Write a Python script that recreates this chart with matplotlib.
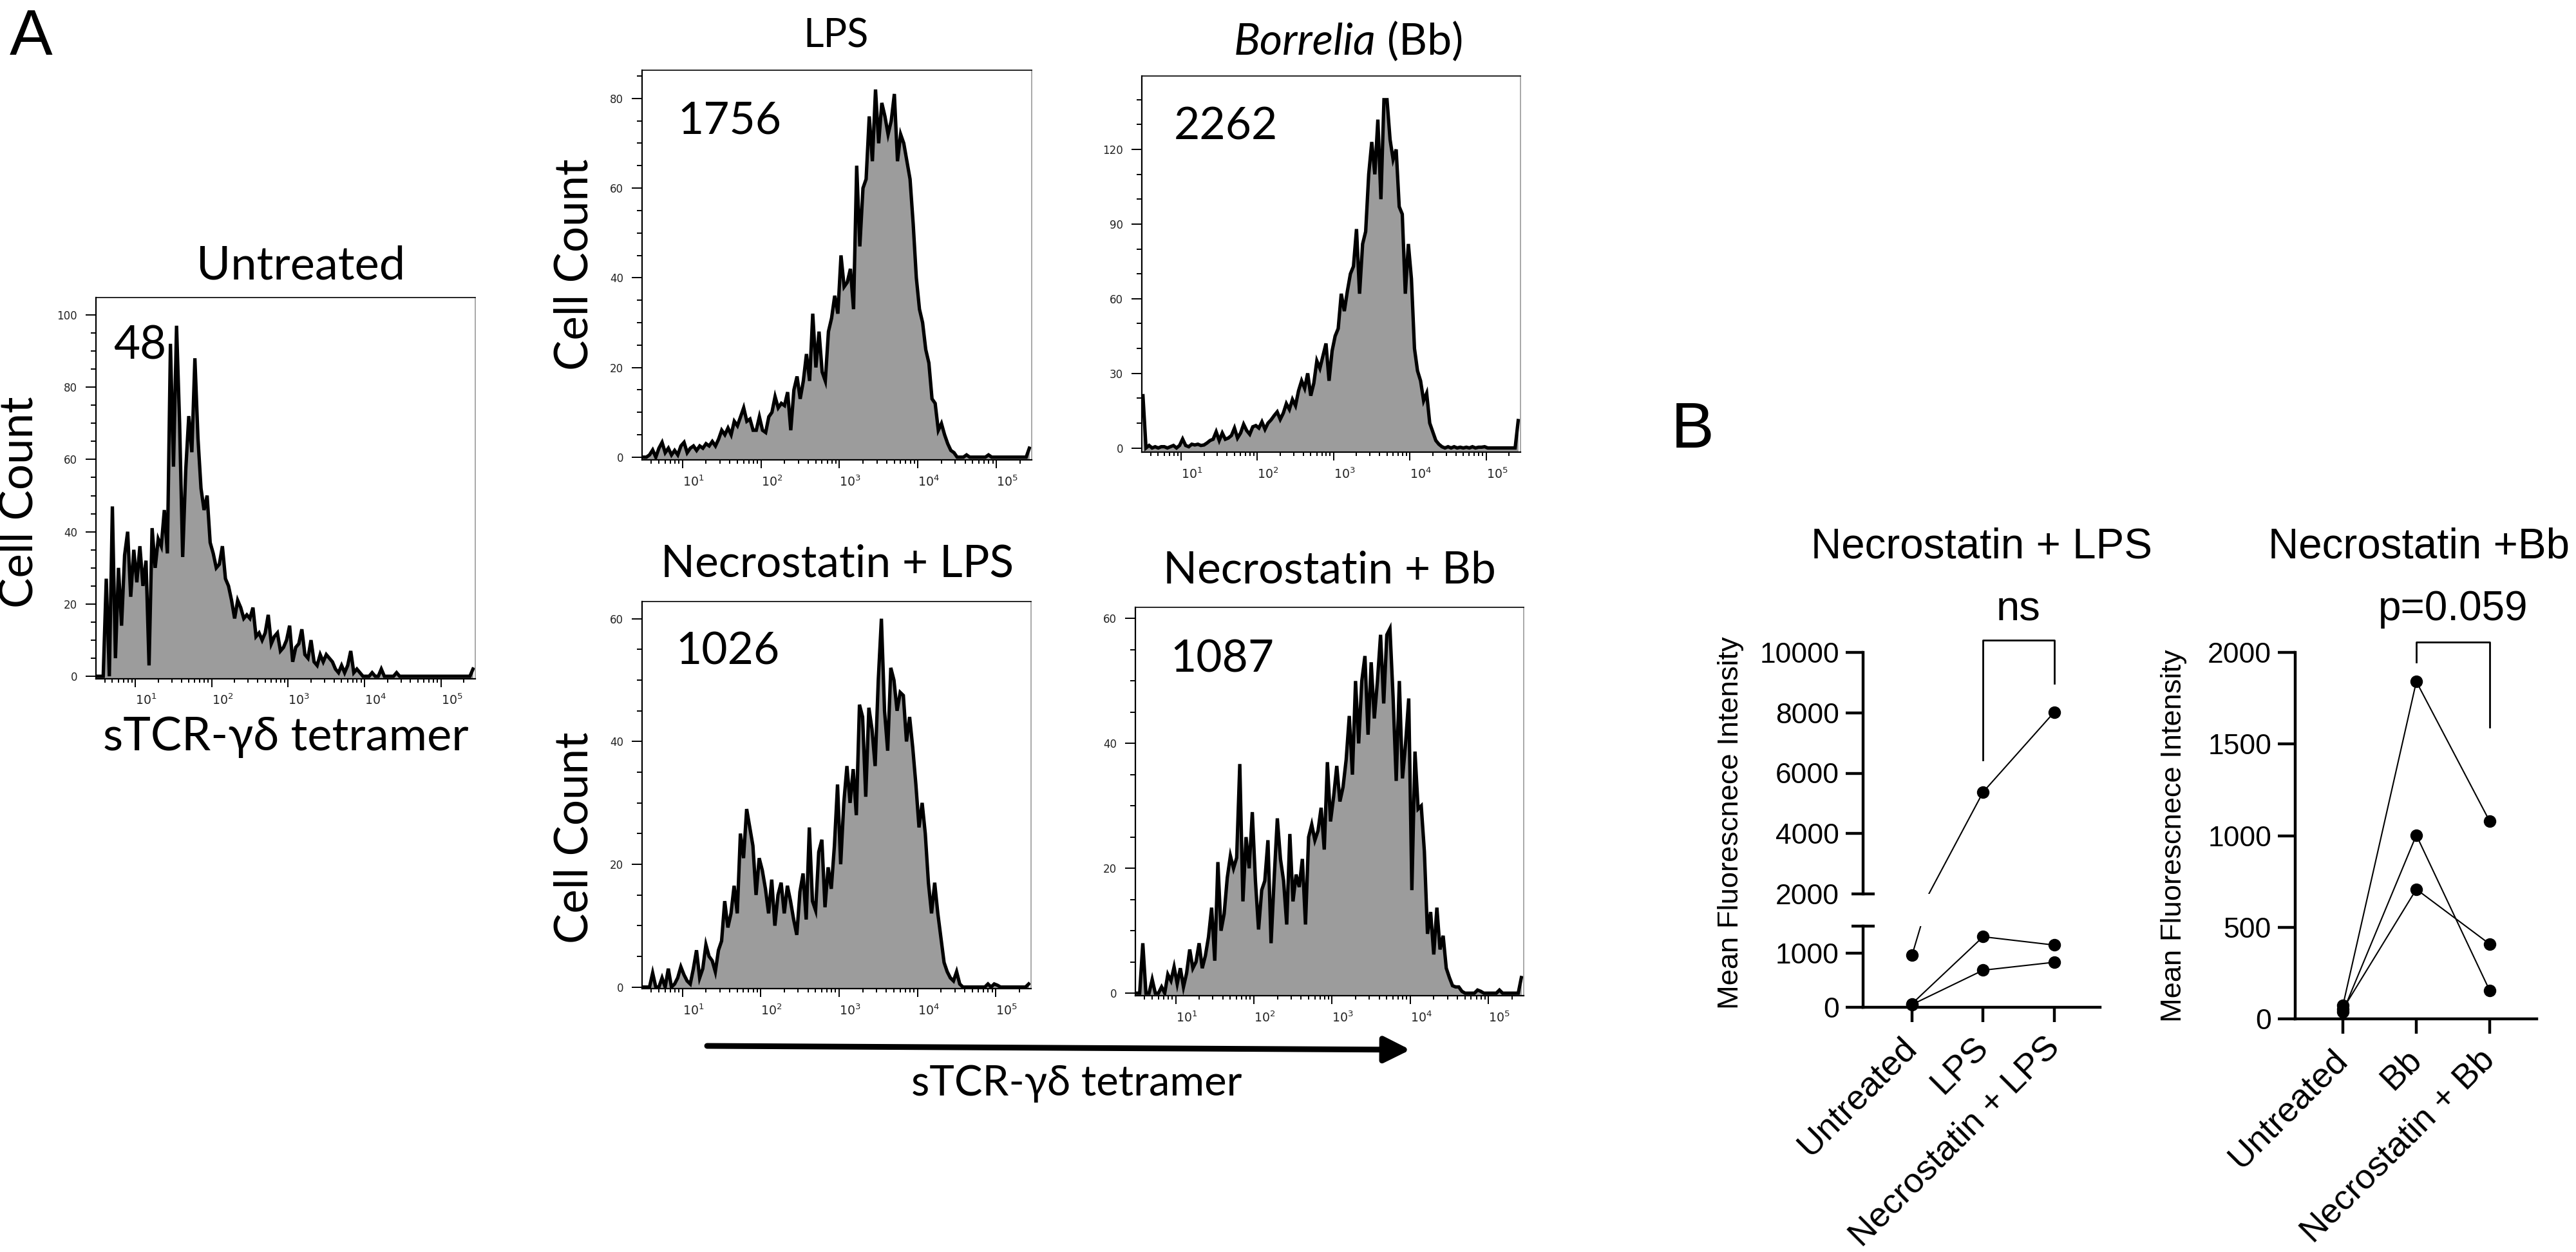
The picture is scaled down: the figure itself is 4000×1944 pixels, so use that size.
import numpy as np
import matplotlib
matplotlib.use('Agg')
import matplotlib.pyplot as plt
from matplotlib.ticker import FixedLocator, LogLocator, NullFormatter
from matplotlib.patches import FancyArrowPatch, ArrowStyle

# ======================= DATA =======================
# Flow-cytometry histograms: cell counts per log10 channel (channel grid 10^0.50 ... step 0.04 decade)
hist_log_start = 0.50
hist_log_step = 0.04
n_channels = 124

untreated_counts = [0, 0, 0, 27, 0, 47, 5, 30, 14, 33.5,
                    40, 22, 35, 26, 36, 25, 32, 3, 41, 30,
                    38, 36, 46, 34, 92, 58, 97, 70, 33, 57,
                    72, 62, 88, 66, 52, 46, 50, 37, 34, 30,
                    31, 36, 27, 25, 21, 16, 21, 19, 16, 17,
                    16, 19, 11, 12, 10, 12, 17, 9, 11, 12,
                    7, 8, 10, 14, 4, 8, 9, 13, 6, 5,
                    10, 4, 3, 6, 4, 6, 5, 4, 2, 1,
                    3, 1, 3, 7, 1, 2, 1, 0, 0, 0,
                    1, 0, 0, 2, 0, 0, 0, 0, 1]
untreated_edge = 2

lps_counts = [0, 0, 0.5, 1.6, 0, 2.0, 3.3, 1, 2, 0.5,
              1.5, 0.5, 2.5, 3.3, 1, 2, 2.5, 1.5, 2.5, 2,
              3, 2.5, 3.5, 2.5, 4, 6, 5, 6.5, 5, 8,
              7, 9, 11, 8, 8.5, 6, 6, 9, 6, 5.5,
              9, 10, 13.5, 11, 12, 11.5, 14.5, 6, 15, 18,
              13, 17, 23, 17, 32, 20, 28, 19, 17, 28,
              31, 36, 32, 45, 38, 39, 42, 33, 65, 47,
              60, 62, 76, 66, 82, 70, 79, 76, 72, 75,
              81, 66, 72, 70, 66, 62, 52, 40, 33, 30,
              24, 21, 13, 12, 6, 7.5, 5, 3, 1.5, 1,
              0, 0, 0, 0.5, 0, 0, 0, 0, 0, 0,
              0.5]
lps_edge = 2

bb_counts = [21, 0, 1, 0, 0.5, 0, 0.5, 0.5, 0, 0.5,
             1, 0, 1, 3.6, 1, 0.5, 1.5, 1.2, 1.5, 1,
             1.2, 2, 3, 3.5, 6.5, 3, 6, 3.5, 4, 5,
             8, 4, 6, 9.5, 7, 5.5, 8.5, 9, 8, 10.5,
             7.5, 10, 11.3, 13, 14.5, 11.5, 14, 17.8, 15.5, 19.5,
             17, 23, 27, 24, 30, 21, 26, 35, 32, 37,
             42, 27, 39, 45, 48, 62, 55, 63, 70, 73,
             88, 62, 82, 87, 110, 123, 110, 132, 100, 140,
             140, 124, 116, 120, 97, 94, 62, 82, 68, 40,
             31, 27, 19, 22, 10, 6.5, 3, 1.5, 0.5, 0,
             0.5, 0, 0.5, 0, 0.3, 0, 0.3, 0, 0.5, 0,
             0.3, 0.3, 0.5]
bb_edge = 11

nec_lps_counts = [0, 0, 0, 2.3, 0, 0, 1.5, 0, 3, 0,
                  0.5, 1.5, 3.3, 2, 1, 0.5, 3, 6, 1.5, 3,
                  6.9, 5, 4.3, 2.5, 6, 7.5, 14, 9.7, 12, 16.5,
                  12, 25, 21, 29, 26, 23, 15, 21, 19, 16,
                  12, 17.5, 10, 15, 17, 12, 16.5, 14, 11, 8.5,
                  15.5, 18.5, 11, 26, 14, 12.5, 22, 24, 13, 19.5,
                  16, 23, 33, 20, 30, 36, 30, 35.5, 28, 46,
                  44, 31, 45.5, 42, 36, 50, 60, 45, 38.5, 52,
                  50, 45, 48, 47.5, 40, 44, 39, 33, 26, 30,
                  25, 17, 12, 17, 12, 8, 4, 2.5, 1.5, 1,
                  2.5, 0.5, 0, 0, 0, 0, 0, 0, 0, 0,
                  0.5, 0, 0.5, 0.3]
nec_lps_edge = 0.5

nec_bb_counts = [0, 0, 8, 0, 0, 2.2, 0, 0, 1, 0,
                 3, 2, 4.2, 1.5, 4, 1, 3.2, 7, 4, 5,
                 8, 4, 6, 9, 13.7, 5.2, 21, 10, 12.7, 18.5,
                 22, 20, 21.7, 36.7, 14.7, 25, 20, 29, 18, 10.2,
                 16.5, 18, 24.5, 8, 18.5, 28, 21.5, 18, 11, 25.5,
                 14.7, 19, 17, 21.5, 11, 25, 27, 24.5, 26, 29.7,
                 23, 37, 27.5, 31.5, 36.4, 30.7, 33, 37.4, 44.4, 35,
                 50, 40, 50, 54, 41.4, 53, 44, 50, 57.4, 46.4,
                 57.4, 58.4, 47.4, 34, 50, 34.4, 40, 47.2, 16.5, 38.7,
                 29.5, 30, 22.7, 9.5, 13, 6.2, 13.7, 7, 9.2, 4,
                 2.5, 1.2, 1, 1, 0.3, 0, 0, 0, 0, 0.5,
                 0.3, 0, 0, 0, 0, 0, 0.5]
nec_bb_edge = 2.5

hist_titles = ['Untreated', 'LPS', 'Borrelia', 'Necrostatin + LPS', 'Necrostatin + Bb']
hist_mfi_labels = ['48', '1756', '2262', '1026', '1087']
hist_xtick_exps = [1, 2, 3, 4, 5]

# Panel B: mean fluorescence intensity, one list per replicate across groups
lps_groups = ['Untreated', 'LPS', 'Necrostatin + LPS']
lps_mfi = [[955, 5376, 8020],
           [60, 1300, 1146],
           [45, 681, 828]]
bb_groups = ['Untreated', 'Bb', 'Necrostatin + Bb']
bb_mfi = [[75, 1840, 1078],
          [40, 1003, 155],
          [55, 708, 409]]
lps_upper_ticks = [4000, 6000, 8000, 10000]
lps_lower_ticks = [0, 1000]
bb_ticks = [0, 500, 1000, 1500, 2000]

# ======================= FIGURE =======================
W, H, DPI = 4000, 1944, 200
plt.rcParams['font.family'] = ['Lato', 'DejaVu Sans']
plt.rcParams['mathtext.fontset'] = 'dejavusans'
fig = plt.figure(figsize=(W / DPI, H / DPI), dpi=DPI)
PT = 72.0 / DPI
ARIAL = ['Liberation Sans', 'DejaVu Sans']


def P(px):
    return px * PT


def fx(x):
    return x / W


def fy(y):
    return 1 - y / H


def px_axes(l, t, r, b):
    return fig.add_axes([l / W, 1 - b / H, (r - l) / W, (b - t) / H])


log_ch = hist_log_start + hist_log_step * np.arange(n_channels)
x_ch = 10 ** log_ch


def full_counts(vals, edge):
    c = np.zeros(n_channels)
    c[:len(vals)] = vals
    c[-1] = edge
    return c


GRAY = '#9c9c9c'


def hist_panel(rect, vals, edge, ylim, yticks, yminor):
    ax = px_axes(*rect)
    counts = full_counts(vals, edge)
    ax.fill_between(x_ch, counts, ylim[0], color=GRAY, lw=0, zorder=1)
    ax.plot(x_ch, counts, color='black', lw=1.9, zorder=2, solid_joinstyle='miter')
    ax.set_xscale('log')
    ax.set_xlim(10 ** 0.485, 10 ** 5.45)
    ax.set_ylim(*ylim)
    ax.set_yticks(yticks, labels=[str(v) for v in yticks], fontfamily='DejaVu Sans')
    ax.set_yticks(yminor, minor=True)
    ax.xaxis.set_major_locator(FixedLocator([10.0 ** k for k in hist_xtick_exps]))
    ax.set_xticks([10.0 ** k for k in hist_xtick_exps],
                  labels=[r'$10^{%d}$' % k for k in hist_xtick_exps], ha='left')
    ax.xaxis.set_minor_locator(LogLocator(base=10, subs=np.arange(2, 10), numticks=30))
    ax.xaxis.set_minor_formatter(NullFormatter())
    ax.tick_params(axis='both', which='both', direction='out', width=0.7, color='black',
                   labelcolor='#222222')
    ax.tick_params(axis='y', which='major', length=P(16), pad=P(13), labelsize=6)
    ax.tick_params(axis='y', which='minor', length=P(8))
    ax.tick_params(axis='x', which='major', length=P(13), pad=P(9), labelsize=6.8)
    ax.tick_params(axis='x', which='minor', length=P(6))
    ax.spines['left'].set_linewidth(0.8)
    ax.spines['bottom'].set_linewidth(0.8)
    ax.spines['top'].set_linewidth(0.6)
    ax.spines['right'].set_linewidth(0.6)
    ax.spines['right'].set_color('#999999')
    return ax


# ---- Panel A histograms ----
hist_panel((149, 462, 738, 1054), untreated_counts, untreated_edge, (-0.7, 104.8),
           [0, 20, 40, 60, 80, 100], np.arange(0, 105, 5))
hist_panel((997, 109, 1602, 714), lps_counts, lps_edge, (-0.6, 86.3),
           [0, 20, 40, 60, 80], np.arange(0, 86, 5))
hist_panel((1773, 118.5, 2361, 702.5), bb_counts, bb_edge, (-1.8, 149.4),
           [0, 30, 60, 90, 120], np.arange(0, 150, 10))
hist_panel((997, 934, 1601, 1535), nec_lps_counts, nec_lps_edge, (-0.25, 62.8),
           [0, 20, 40, 60], np.arange(0, 63, 5))
hist_panel((1763, 943, 2366, 1546), nec_bb_counts, nec_bb_edge, (-0.4, 61.8),
           [0, 20, 40, 60], np.arange(0, 62, 5))

# Panel A texts
fig.text(fx(15), fy(85), 'A', fontsize=36, family=ARIAL, ha='left', va='baseline')
fig.text(fx(467), fy(433), hist_titles[0], fontsize=26, ha='center', va='baseline')
fig.text(fx(176), fy(557), hist_mfi_labels[0], fontsize=25.5, ha='left', va='baseline')
fig.text(fx(444), fy(1165), 'sTCR-\u03b3\u03b4 tetramer', fontsize=26, ha='center', va='baseline',
         family=['Lato', 'DejaVu Serif'])
fig.text(fx(30), fy(780), 'Cell Count', fontsize=25.5, rotation=90, ha='center', va='center')

fig.text(fx(1298), fy(73), hist_titles[1], fontsize=22, ha='center', va='baseline')
fig.text(fx(1052), fy(207), hist_mfi_labels[1], fontsize=25, ha='left', va='baseline')
fig.text(fx(2136), fy(85), hist_titles[2], fontsize=24.5, style='italic', ha='right', va='baseline')
fig.text(fx(2154), fy(85), '(Bb)', fontsize=24.5, ha='left', va='baseline')
fig.text(fx(1823), fy(216), hist_mfi_labels[2], fontsize=25, ha='left', va='baseline')
fig.text(fx(892), fy(411), 'Cell Count', fontsize=25.5, rotation=90, ha='center', va='center')

fig.text(fx(1300), fy(895), hist_titles[3], fontsize=25, ha='center', va='baseline')
fig.text(fx(1049), fy(1031), hist_mfi_labels[3], fontsize=25, ha='left', va='baseline')
fig.text(fx(2064), fy(905), hist_titles[4], fontsize=25, ha='center', va='baseline')
fig.text(fx(1817), fy(1043), hist_mfi_labels[4], fontsize=25, ha='left', va='baseline')
fig.text(fx(892), fy(1301), 'Cell Count', fontsize=25.5, rotation=90, ha='center', va='center')

arrow = FancyArrowPatch((fx(1098), fy(1624)), (fx(2190), fy(1630)), transform=fig.transFigure,
                        arrowstyle=ArrowStyle('-|>', head_length=P(34), head_width=P(17)),
                        mutation_scale=1, lw=3.2, color='black', shrinkA=0, shrinkB=0)
fig.add_artist(arrow)
fig.text(fx(1672), fy(1701), 'sTCR-\u03b3\u03b4 tetramer', fontsize=23.5, ha='center', va='baseline',
         family=['Lato', 'DejaVu Serif'])

# ---- Panel B ----
SPW = 1.6


def prism_axes(ax, show_x=True):
    ax.patch.set_alpha(0)
    ax.spines['top'].set_visible(False)
    ax.spines['right'].set_visible(False)
    ax.spines['left'].set_linewidth(SPW)
    ax.spines['left'].set_capstyle('projecting')
    if show_x:
        ax.spines['bottom'].set_linewidth(SPW)
        ax.spines['bottom'].set_capstyle('projecting')
    else:
        ax.spines['bottom'].set_visible(False)
        ax.tick_params(axis='x', which='both', bottom=False, labelbottom=False)
    ax.tick_params(axis='y', which='major', direction='out', width=SPW, length=P(27),
                   pad=P(10), labelsize=16)
    ax.tick_params(axis='x', which='major', direction='out', width=SPW, length=P(23),
                   pad=P(32), labelsize=19.5)


def draw_pairs(ax, series, ylim):
    for s in series:
        ax.plot(range(len(s)), s, color='black', lw=0.75, zorder=2)
    xs = [i for s in series for i, v in enumerate(s) if ylim[0] <= v <= ylim[1]]
    ys = [v for s in series for v in s if ylim[0] <= v <= ylim[1]]
    ax.plot(xs, ys, 'o', ms=6.0, color='black', ls='none', clip_on=False, zorder=3)


# Left (broken axis)
ax_u = px_axes(2893, 1012.8, 3261, 1388.2)
ax_l = px_axes(2893, 1437.7, 3261, 1563.6)
for ax, yl in ((ax_u, (2000, 10000)), (ax_l, (0, 1500))):
    ax.set_xlim(-0.687, 2.644)
    ax.set_ylim(*yl)
    draw_pairs(ax, lps_mfi, yl)
prism_axes(ax_u, show_x=False)
prism_axes(ax_l, show_x=True)
ax_u.set_yticks(lps_upper_ticks, labels=[str(v) for v in lps_upper_ticks], fontfamily=ARIAL)
ax_u.set_yticks([2000], labels=['2000'], minor=True, fontfamily=ARIAL)
ax_u.tick_params(axis='y', which='minor', direction='inout', width=SPW, length=P(36),
                 pad=P(19), labelsize=16)
ax_l.set_yticks(lps_lower_ticks, labels=[str(v) for v in lps_lower_ticks], fontfamily=ARIAL)
ax_l.set_yticks([1500], labels=[''], minor=True)
ax_l.tick_params(axis='y', which='minor', direction='inout', width=SPW, length=P(36))
ax_l.set_xticks(range(3), labels=lps_groups, rotation=45, ha='right', va='center',
                rotation_mode='anchor', fontfamily=ARIAL)
ax_u.plot([1, 1, 2, 2], [6440, 10410, 10410, 8980], color='black', lw=1.0, clip_on=False)
ax_u.text(1.5, 11061, 'ns', ha='center', va='baseline', fontsize=23.5, family=ARIAL)

# Right
ax_r = px_axes(3564, 1012.8, 3939, 1582.4)
ax_r.set_xlim(-0.65, 2.64)
ax_r.set_ylim(0, 2000)
draw_pairs(ax_r, bb_mfi, (0, 2000))
prism_axes(ax_r, show_x=True)
ax_r.set_yticks(bb_ticks, labels=[str(v) for v in bb_ticks], fontfamily=ARIAL)
ax_r.set_xticks(range(3), labels=bb_groups, rotation=45, ha='right', va='center',
                rotation_mode='anchor', fontfamily=ARIAL)
ax_r.plot([1, 1, 2, 2], [1947, 2054, 2054, 1592], color='black', lw=1.0, clip_on=False)
ax_r.text(1.5, 2175, 'p=0.059', ha='center', va='baseline', fontsize=23, family=ARIAL)

fig.text(fx(2595), fy(695), 'B', fontsize=36, family=ARIAL, ha='left', va='baseline')
fig.text(fx(3077), fy(866), 'Necrostatin + LPS', fontsize=23.6, family=ARIAL, ha='center', va='baseline')
fig.text(fx(3756), fy(866), 'Necrostatin +Bb', fontsize=23.6, family=ARIAL, ha='center', va='baseline')
fig.text(fx(2687), fy(1278), 'Mean Fluorescnece Intensity', fontsize=16.3, family=ARIAL,
         rotation=90, ha='center', va='center')
fig.text(fx(3376), fy(1298), 'Mean Fluorescnece Intensity', fontsize=16.3, family=ARIAL,
         rotation=90, ha='center', va='center')

fig.savefig('out.png', dpi=DPI, facecolor='white')
